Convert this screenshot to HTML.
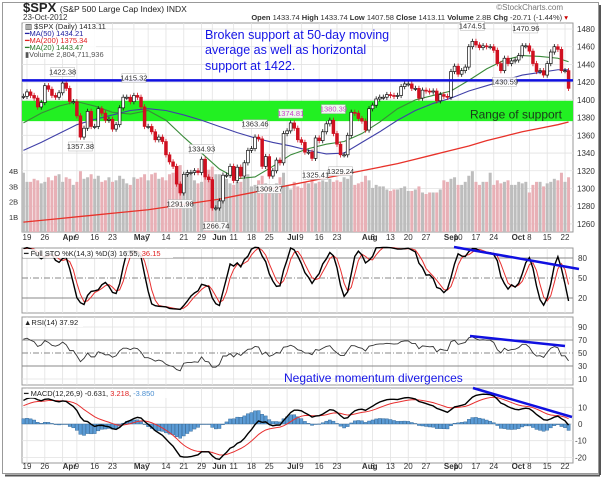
<!DOCTYPE html>
<html><head><meta charset="utf-8">
<style>
html,body{margin:0;padding:0;background:#fff;}
svg{display:block;font-family:"Liberation Sans",sans-serif;}
</style></head>
<body>
<svg id="chart" width="609" height="479" viewBox="0 0 609 479" xmlns="http://www.w3.org/2000/svg">
<rect x="0" y="0" width="609" height="479" fill="#fff"/>
<rect x="2.5" y="2.5" width="596" height="471" fill="#fff" stroke="#999"/>
<line x1="600" y1="5" x2="600" y2="475" stroke="#555" stroke-width="2"/>
<line x1="5" y1="475.5" x2="600" y2="475.5" stroke="#555" stroke-width="2"/>
<g id="layer"></g>
</svg>
<script>
// ---------- DATA ----------
const closes = [1404,1409,1405,1402,1392,1397,1416,1412,1405,1403,1408,
1419,1413,1398,1398,1382,1358,1368,1387,1370,1370,1390,1385,1377,1378,1367,1372,1391,1403,1403,1398,
1405,1403,1392,1370,1370,1364,1355,1358,1353,1338,1330,1325,1305,1295,1316,1318,1318,1320,1318,1333,1313,1310,1278,
1278,1286,1315,1315,1325,1309,1324,1314,1329,1343,1345,1358,1356,1325,1336,1314,1320,1332,1329,1362,
1365,1374,1368,1355,1352,1341,1341,1334,1357,1354,1364,1373,1377,1362,1350,1338,1338,1360,1386,
1385,1379,1376,1366,1390,1394,1401,1403,1403,1406,1405,1404,1405,1415,1418,1418,1413,1413,1402,1411,1410,1409,1410,1399,1406,
1404,1403,1432,1438,1429,1433,1437,1460,1466,1462,1459,1461,1460,1460,1456,1441,1433,1447,1441,
1444,1445,1450,1461,1461,1455,1441,1432,1433,1428,1441,1454,1460,1457,1433,1433,1413];
const preHistory = [1315,1316,1314,1326,1318,1316,1313,1312,1325,1324,1344,1345,1347,1344,1351,1352,1342,1351,1350,1351,1343,1358,1361,1362,1357,1363,1372,1366,1369,1374,1367,1344,1352,1366,1370,1372,1371,1396,1394,1403];
const volumes = [3.9,3.3,3.3,3.5,3.4,3.2,3.3,3.6,3.4,3.7,3.8,
3.3,3.6,3.5,3.1,3.3,4.0,3.5,3.6,3.8,3.5,3.7,3.3,3.4,3.6,3.3,3.4,3.7,3.5,3.2,3.1,
3.6,3.5,3.6,3.8,3.4,3.8,3.9,3.5,3.6,3.4,3.8,3.9,3.9,4.4,3.4,3.8,3.8,3.4,3.2,3.3,3.6,4.1,4.3,
3.8,3.8,3.7,3.5,3.2,3.1,3.3,3.3,3.5,3.8,3.0,3.1,3.4,3.7,3.2,3.1,3.1,3.2,3.6,3.9,
3.1,2.8,3.3,3.0,2.9,3.3,3.2,3.5,3.2,3.3,3.4,3.3,3.5,3.3,3.4,3.3,3.6,3.5,3.8,
3.1,3.2,3.3,3.7,3.4,2.9,3.1,3.0,3.0,2.8,2.7,2.8,2.8,2.9,3.0,2.7,2.7,2.8,3.0,2.6,2.5,2.6,2.6,2.6,2.8,
3.4,3.3,3.5,3.6,3.1,3.1,3.3,3.7,4.0,3.3,3.1,3.3,3.3,3.9,3.1,3.4,3.2,3.3,3.4,
3.1,3.1,3.3,3.2,3.3,2.6,3.1,3.3,3.3,3.0,3.2,3.3,3.5,3.4,3.9,3.3,3.6];
const maIdx = [0,5,10,15,20,25,30,35,40,45,50,55,60,65,70,75,80,85,90,95,100,105,110,115,120,125,130,135,140,145,150,153];
const ma50 = [1343,1352,1362,1372,1378,1383,1388,1390,1388,1383,1377,1370,1363,1357,1352,1348,1343,1339,1340,1352,1364,1377,1388,1396,1402,1410,1416,1422,1428,1431,1434,1434];
const ma20 = [1374,1385,1393,1398,1393,1386,1384,1388,1377,1358,1340,1322,1311,1313,1325,1338,1345,1350,1353,1362,1375,1390,1400,1405,1410,1422,1435,1445,1450,1449,1447,1443];
const ma200 = [1262,1264,1266,1268,1270,1272,1274,1276,1279,1282,1285,1288,1292,1296,1300,1304,1308,1312,1316,1320,1324,1328,1333,1338,1343,1348,1354,1359,1364,1368,1372,1375];
const priceTicks = [1260,1280,1300,1320,1340,1360,1380,1400,1420,1440,1460,1480];
const volTicks = [1,2,3,4];
const volTickLabels = ["1B","2B","3B","4B"];
const stoTicks = [20,50,80];
const rsiTicks = [10,30,50,70,90];
const macdTicks = [-20,-10,0,10];
const dateIdx = [1,6,11,15,20,25,31,35,40,45,50,53,59,64,69,74,78,83,88,95,98,103,108,113,118,122,127,132,137,142,147,152];
const dateLabels = ["19","26","Apr","9","16","23","May","7","14","21","29","Jun","11","18","25","Jul","9","16","23","Aug","6","13","20","27","Sep","10","17","24","Oct","8","15","22"];
const supportLevel = 1422;
const bandLow = 1376, bandHigh = 1399;
const peakLabels = [["1422.38",11,1422,-1],["1415.32",31,1415,-1],["1357.38",16,1357,1],["1334.93",50,1335,-1],["1291.98",44,1292,1],["1266.74",54,1267,1],["1363.46",65,1363,-1],["1309.27",69,1309,1],["1374.81",75,1375,-1],["1380.39",87,1380,-1],["1325.41",82,1325,1],["1329.24",89,1329,1],["1474.51",126,1474,-1],["1470.96",141,1471,-1],["1430.59",135,1430,1]];

// ---------- SCALES ----------
const L=22, R=573;
const X = i => 27 + (i-1)*3.563;
const yP = v => 29 + (1480 - v)*0.886;
const yV = b => 232 - b*15.2;
const yS = v => 298 - (v-20)*0.6667;
const yR = v => 366 - (v-30)*0.65;
const yM = v => 424 - v*1.67;

const NS="http://www.w3.org/2000/svg";
const layer=document.getElementById('layer');
function mk(tag, attrs, parent){const e=document.createElementNS(NS,tag);for(const k in attrs)e.setAttribute(k,attrs[k]);(parent||layer).appendChild(e);return e;}
function txt(s, attrs, parent){const e=mk('text',attrs,parent);e.textContent=s;return e;}

// ---------- INDICATORS ----------
const full = preHistory.concat(closes); const off = preHistory.length;
const fHi = full.map((c,i)=>Math.max(c, i>0?full[i-1]:c)+3);
const fLo = full.map((c,i)=>Math.min(c, i>0?full[i-1]:c)-3);
function sma(a,n){return a.map((v,i)=>{if(i<n-1)return null;let s=0;for(let j=i-n+1;j<=i;j++)s+=a[j];return s/n;});}
const raw = full.map((c,i)=>{const a=Math.max(0,i-13);const lo=Math.min(...fLo.slice(a,i+1)),hi=Math.max(...fHi.slice(a,i+1));return hi===lo?50:(c-lo)/(hi-lo)*100;});
const kLine = sma(raw,3); const dLine = sma(kLine.map(v=>v===null?50:v),3);
let ag=0,al=0; const rsi=full.map((c,i)=>{if(i===0)return 50;const d=c-full[i-1];const g=Math.max(d,0),l=Math.max(-d,0);if(i<=14){ag+=g/14;al+=l/14;}else{ag=(ag*13+g)/14;al=(al*13+l)/14;}return al===0?100:100-100/(1+ag/al);});
function ema(a,n){const k=2/(n+1);let e=a[0];return a.map(v=>e=v*k+e*(1-k));}
const e12=ema(full,12), e26=ema(full,26); const macd=e12.map((v,i)=>v-e26[i]); const sig=ema(macd,9); const hist=macd.map((v,i)=>v-sig[i]);

// ---------- PANELS ----------
function panel(name,top,bot){const r=mk('rect',{x:L,y:top,width:R-L,height:bot-top,fill:'#fff',stroke:'#999','stroke-width':1});}
panel('price-panel',23,232); panel('stochastic-panel',248,313); panel('rsi-panel',317,385); panel('macd-panel',388,463);
const grid=mk('g',{stroke:'#e2e2e2','stroke-width':0.8});


dateIdx.forEach(i=>{[[23,232],[248,313],[317,385],[388,463]].forEach(([a,b])=>mk('line',{x1:X(i),y1:a,x2:X(i),y2:b},grid));});
priceTicks.forEach(v=>{mk('line',{x1:L,y1:yP(v),x2:R,y2:yP(v)},grid);
 const t=txt(String(v),{x:577,y:yP(v)+3,'font-size':8,fill:'#333'});});
volTicks.forEach((v,k)=>{const t=txt(volTickLabels[k],{x:9,y:yV(v)+3,'font-size':7.5,fill:'#333'});});
stoTicks.forEach(v=>{mk('line',{x1:L,y1:yS(v),x2:R,y2:yS(v),stroke:'#888','stroke-width':1,'stroke-dasharray':v===50?'6,2,1,2':'none'});
 const t=txt(String(v),{x:578,y:yS(v)+3,'font-size':8,fill:'#333'});});
[90,10].forEach(v=>mk('line',{x1:L,y1:yR(v),x2:R,y2:yR(v)},grid));
rsiTicks.forEach(v=>{if(v===30||v===50||v===70)mk('line',{x1:L,y1:yR(v),x2:R,y2:yR(v),stroke:'#888','stroke-width':1,'stroke-dasharray':v===50?'6,2,1,2':'none'});
 const t=txt(String(v),{x:578,y:yR(v)+3,'font-size':8,fill:'#333'});});
macdTicks.forEach(v=>{mk('line',{x1:L,y1:yM(v),x2:R,y2:yM(v)},grid);
 const t=txt(String(v),{x:v<0?575:578,y:yM(v)+3,'font-size':8,fill:'#333'});});
[240,469].forEach(yy=>dateIdx.forEach((i,k)=>{const lb=dateLabels[k];const bold=isNaN(+lb);const t=txt(lb,{x:X(i),y:yy,'font-size':8,'font-weight':bold?'bold':'normal',fill:'#333','text-anchor':bold?'start':'middle'});}));

// ---------- PRICE PANEL ----------
const band=mk('rect',{x:L,y:yP(bandHigh),width:R-L,height:yP(bandLow)-yP(bandHigh),fill:'#22f022'});


const vg=mk('g',{});


volumes.forEach((v,i)=>{const dn=i>0&&closes[i]<closes[i-1];const b=mk('rect',{x:X(i)-1.5,y:yV(v),width:3,height:232-yV(v),fill:dn?'#e8b0b6':'#bdbdbd'},vg);});
function maLine(vals,color,name,w){const p=mk('polyline',{points:vals.map((v,k)=>X(maIdx[k])+','+yP(v)).join(' '),fill:'none',stroke:color,'stroke-width':w});}
maLine(ma200,'#e8322a','ma200-line',1.3); maLine(ma50,'#4040a8','ma50-line',1.1); maLine(ma20,'#3a8a3a','ma20-line',1.1);
const cg=mk('g',{});


closes.forEach((c,i)=>{const o=i>0?closes[i-1]:c;const dn=i>0&&c<o;const col=dn?'#d01020':'#111';
 const hi=Math.max(o,c)+3, lo=Math.min(o,c)-3;
 mk('line',{x1:X(i),y1:yP(hi),x2:X(i),y2:yP(lo),stroke:col,'stroke-width':0.8},cg);
 const top=yP(Math.max(o,c)), h=Math.max(1,yP(Math.min(o,c))-top);
 const r=mk('rect',{x:X(i)-1.4,y:top,width:2.8,height:h,fill:dn?col:'#fff',stroke:col,'stroke-width':0.7},cg);});
const sl=mk('line',{x1:L,y1:yP(supportLevel),x2:R,y2:yP(supportLevel),stroke:'#1010e0','stroke-width':2.5});


peakLabels.forEach(([s,i,v,d])=>{const y=d<0?yP(v)-6:yP(v)+11;const w=24;
 mk('rect',{x:X(i)-w/2,y:y-7,width:w,height:9,fill:'#fff',stroke:'#aaa','stroke-width':0.5,opacity:0.9});
 const magenta=(s==='1374.81'||s==='1380.39');
 const t=txt(s,{x:X(i),y:y,'font-size':7.5,'text-anchor':'middle',fill:magenta?'#d040d0':'#333'});});
const rng=txt('Range of support',{x:562,y:yP(1380)+1,'font-size':12,'text-anchor':'end',fill:'#1a3a1a'});



// ---------- STO ----------
function ln(arr,yf,color,name,w){const pts=[];closes.forEach((c,i)=>{const v=arr[i+off];if(v!==null)pts.push(X(i)+','+yf(v));});const p=mk('polyline',{points:pts.join(' '),fill:'none',stroke:color,'stroke-width':w});}
ln(dLine,yS,'#e83030','sto-d-line',1); ln(kLine,yS,'#000','sto-k-line',1.4);
ln(rsi,yR,'#333','rsi-line',0.9);
const hg=mk('g',{});


closes.forEach((c,i)=>{const v=hist[i+off];const y0=yM(0),y1=yM(v);const b=mk('rect',{x:X(i)-1.6,y:Math.min(y0,y1),width:3.2,height:Math.max(0.5,Math.abs(y1-y0)),fill:'#5b9bd5',stroke:'#2a5f8f','stroke-width':0.4},hg);});
ln(sig,yM,'#e83030','macd-signal-line',1); ln(macd,yM,'#000','macd-line',1.4);

// trend lines
[[454,247,579,269,'sto-divergence-line'],[470,336,565,346,'rsi-divergence-line'],[473,388,572,417,'macd-divergence-line']].forEach(a=>{const l=mk('line',{x1:a[0],y1:a[1],x2:a[2],y2:a[3],stroke:'#1010e0','stroke-width':2.5});});
</script>
<svg style="position:absolute;left:0;top:0" width="609" height="479">
<g font-family="Liberation Sans, sans-serif">
<text x="23" y="12" font-size="13" font-weight="bold" fill="#222">$SPX <tspan font-size="8.5" font-weight="normal">(S&amp;P 500 Large Cap Index) INDX</tspan></text>
<text x="23" y="20" font-size="8" fill="#333">23-Oct-2012</text>
<text x="563" y="10" font-size="8" fill="#777" text-anchor="end">©StockCharts.com</text>
<text x="568" y="20" font-size="7.5" fill="#333" text-anchor="end"><tspan font-weight="bold">Open</tspan> 1433.74 <tspan font-weight="bold">High</tspan> 1433.74 <tspan font-weight="bold">Low</tspan> 1407.58 <tspan font-weight="bold">Close</tspan> 1413.11 <tspan font-weight="bold">Volume</tspan> 2.8B <tspan font-weight="bold">Chg</tspan> -20.71 (-1.44%) <tspan fill="#c00">▾</tspan></text>
<rect x="23" y="23" width="73" height="36" fill="#fff" opacity="0.85"/>
<text x="25" y="29" font-size="7.5" fill="#222">▥ $SPX (Daily) 1413.11</text>
<text x="25" y="36" font-size="7.5" fill="#2020a0">━MA(50) 1434.21</text>
<text x="25" y="43" font-size="7.5" fill="#e02020">━MA(200) 1375.34</text>
<text x="25" y="50" font-size="7.5" fill="#2a7a2a">━MA(20) 1443.47</text>
<text x="25" y="57" font-size="7.5" fill="#555">▮Volume 2,804,711,936</text>
<rect x="23" y="249" width="150" height="9" fill="#fff" opacity="0.85"/>
<text x="24" y="256" font-size="7.5" fill="#222">━ Full STO %K(14,3) %D(3) 16.55, <tspan fill="#e02020">36.15</tspan></text>
<rect x="23" y="318" width="60" height="9" fill="#fff" opacity="0.85"/>
<text x="24" y="325" font-size="7.5" fill="#222">▲RSI(14) 37.92</text>
<rect x="23" y="389" width="160" height="9" fill="#fff" opacity="0.85"/>
<text x="24" y="396" font-size="7.5" fill="#222">━ MACD(12,26,9) -0.631, <tspan fill="#e02020">3.218</tspan>, <tspan fill="#4a8ed0">-3.850</tspan></text>
<text font-size="12.5" fill="#1515e6"><tspan x="205" y="39">Broken support at 50-day moving</tspan><tspan x="205" y="54">average as well as horizontal</tspan><tspan x="205" y="70">support at 1422.</tspan></text>
<text x="284" y="382" font-size="12" fill="#1515e6">Negative momentum divergences</text>
</g>
</svg>
</body></html>
